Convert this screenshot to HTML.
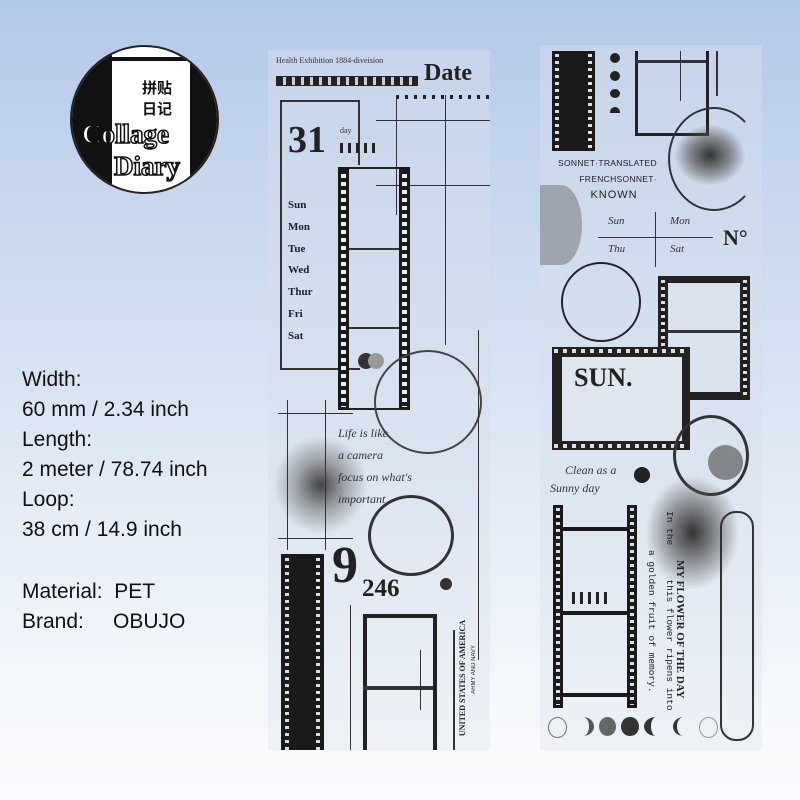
<!DOCTYPE html>
<html><head><meta charset="utf-8"><style>
body{margin:0;width:800px;height:800px;overflow:hidden;background:linear-gradient(#b3c9e8 0%,#d6e2f2 45%,#f4f7fb 85%,#fafbfd 100%);font-family:"Liberation Sans",sans-serif;position:relative}
.abs{position:absolute}
.info{left:22px;top:365px;font-size:21px;line-height:30px;color:#111}
.strip{background:linear-gradient(#c6d5ea,#dbe4f1 60%,#eef2f7)}
.sp{position:absolute;background:#1a1a1a}
.sp::after{content:"";position:absolute;left:30%;right:30%;top:3px;bottom:3px;background:repeating-linear-gradient(#1a1a1a 0 4px,#e8eef6 4px 8px)}
.serif{font-family:"Liberation Serif",serif}
.ln{position:absolute;background:#333}
.holes{position:absolute;background:repeating-linear-gradient(#ddd 0 3px,#1a1a1a 3px 7px)}
</style></head><body>
<!-- logo -->
<div class="abs" style="left:70px;top:45px;width:145px;height:145px;border-radius:50%;background:#fff;overflow:hidden;border:2px solid #222">
 <div class="abs" style="left:0;top:0;width:40px;height:145px;background:#111"></div>
 <div class="abs" style="left:118px;top:0;width:30px;height:145px;background:#111"></div>
 <div class="abs" style="left:40px;top:10px;width:80px;height:4px;background:#111"></div>
 <div class="abs" style="left:70px;top:30px;font:bold 15px 'Noto Sans CJK SC',sans-serif;color:#111">拼贴<br>日记</div>
 <div class="abs serif" style="left:10px;top:72px;font-size:27px;color:#fff;-webkit-text-stroke:1.5px #111;font-weight:bold">Collage</div>
 <div class="abs serif" style="left:42px;top:104px;font-size:27px;color:#fff;-webkit-text-stroke:1.5px #111;font-weight:bold">Diary</div>
</div>
<div class="abs info">Width:<br>60 mm / 2.34 inch<br>Length:<br>2 meter / 78.74 inch<br>Loop:<br>38 cm / 14.9 inch<br><div style="height:32px"></div>Material:&nbsp; PET<br>Brand:&nbsp;&nbsp;&nbsp;&nbsp; OBUJO</div>

<!-- left strip -->
<div class="abs strip" style="left:268px;top:50px;width:222px;height:700px;overflow:hidden">
 <div class="abs serif" style="left:8px;top:6px;font-size:8px;color:#333">Health Exhibition 1884-diveision</div>
 <div class="abs" style="left:8px;top:26px;width:140px;height:8px;background:repeating-linear-gradient(90deg,#222 0 6px,#ccd 6px 9px);border:1px solid #222"></div>
 <div class="abs serif" style="left:156px;top:10px;font-size:24px;font-weight:bold;color:#222">Date</div>
 <div class="abs" style="left:128px;top:45px;width:94px;height:4px;background:repeating-linear-gradient(90deg,#222 0 3px,transparent 3px 9px)"></div>
 <div class="ln" style="left:128px;top:45px;width:1px;height:120px"></div>
 <div class="ln" style="left:108px;top:70px;width:114px;height:1px"></div>
 <div class="ln" style="left:108px;top:135px;width:114px;height:1px"></div>
 <div class="ln" style="left:177px;top:45px;width:1px;height:250px"></div>
 <div class="abs" style="left:12px;top:50px;width:78px;height:266px;border:2px solid #333;border-right:none"></div>
 <div class="ln" style="left:90px;top:50px;width:2px;height:65px"></div>
 <div class="abs serif" style="left:20px;top:68px;font-size:38px;font-weight:bold;color:#222">31</div>
 <div class="abs serif" style="left:72px;top:76px;font-size:8px;color:#333">day</div>
 <div class="abs" style="left:72px;top:93px;width:40px;height:10px;background:repeating-linear-gradient(90deg,#222 0 3px,transparent 3px 8px)"></div>
 <div class="abs serif" style="left:20px;top:145px;font-size:11px;line-height:21.8px;font-weight:bold;color:#222">Sun<br>Mon<br>Tue<br>Wed<br>Thur<br>Fri<br>Sat</div>
 <div class="sp" style="left:70px;top:117px;width:11px;height:243px"></div>
 <div class="sp" style="left:131px;top:117px;width:11px;height:243px"></div>
 <div class="abs" style="left:81px;top:117px;width:50px;height:239px;border-top:2px solid #222;border-bottom:2px solid #222"></div>
 <div class="ln" style="left:81px;top:198px;width:50px;height:2px"></div>
 <div class="ln" style="left:81px;top:277px;width:50px;height:2px"></div>
 <div class="abs" style="left:90px;top:303px;width:16px;height:16px;border-radius:50%;background:#333"></div>
 <div class="abs" style="left:100px;top:303px;width:16px;height:16px;border-radius:50%;background:#999"></div>
 <div class="abs" style="left:106px;top:300px;width:104px;height:100px;border:2px solid #444;border-radius:50%"></div>
 <div class="abs" style="left:100px;top:445px;width:80px;height:75px;border:3px solid #333;border-radius:50%"></div>
 <div class="abs" style="left:5px;top:385px;width:95px;height:100px;background:radial-gradient(#444 0,#6668 35%,transparent 70%)"></div>
 <div class="ln" style="left:10px;top:363px;width:75px;height:1px"></div>
 <div class="ln" style="left:10px;top:488px;width:75px;height:1px"></div>
 <div class="ln" style="left:19px;top:350px;width:1px;height:150px"></div>
 <div class="ln" style="left:57px;top:350px;width:1px;height:150px"></div>
 <div class="ln" style="left:210px;top:280px;width:1px;height:330px"></div>
 <div class="abs serif" style="left:70px;top:372px;font-size:12px;font-style:italic;color:#333;line-height:22px">Life is like<br>a camera<br>focus on what's<br>important</div>
 <div class="abs" style="left:172px;top:528px;width:12px;height:12px;border-radius:50%;background:#333"></div>
 <div class="abs serif" style="left:64px;top:488px;font-size:52px;font-weight:bold;color:#222;line-height:56px">9</div>
 <div class="abs serif" style="left:94px;top:525px;font-size:25px;font-weight:bold;color:#222">246</div>
 <div class="abs" style="left:13px;top:504px;width:43px;height:196px;background:#1a1a1a"></div>
 <div class="holes" style="left:17px;top:508px;width:4px;height:192px"></div>
 <div class="holes" style="left:48px;top:508px;width:4px;height:192px"></div>
 <div class="abs" style="left:95px;top:564px;width:66px;height:140px;border:4px solid #222;border-bottom:none"></div>
 <div class="ln" style="left:95px;top:636px;width:70px;height:4px"></div>
 <div class="ln" style="left:82px;top:555px;width:1px;height:145px"></div>
 <div class="ln" style="left:152px;top:600px;width:1px;height:60px"></div>
 <div class="ln" style="left:185px;top:580px;width:2px;height:120px"></div>
 <div class="abs serif" style="left:190px;top:570px;font-size:8px;font-weight:bold;color:#222;writing-mode:vertical-rl;transform:rotate(180deg);white-space:nowrap">UNITED STATES OF AMERICA</div>
 <div class="abs" style="left:203px;top:595px;font-size:6px;color:#222;writing-mode:vertical-rl;transform:rotate(180deg);white-space:nowrap">ARMY AND NAVY</div>
</div>

<!-- right strip -->
<div class="abs strip" style="left:540px;top:45px;width:222px;height:705px;overflow:hidden">
 <div class="abs" style="left:12px;top:6px;width:43px;height:100px;background:#1a1a1a"></div>
 <div class="holes" style="left:15px;top:9px;width:4px;height:94px"></div>
 <div class="holes" style="left:48px;top:9px;width:4px;height:94px"></div>
 <div class="abs" style="left:70px;top:8px;width:10px;height:10px;border-radius:50%;background:#222"></div>
 <div class="abs" style="left:70px;top:26px;width:10px;height:10px;border-radius:50%;background:#222"></div>
 <div class="abs" style="left:70px;top:44px;width:10px;height:9px;border-radius:50%;background:#222"></div>
 <div class="abs" style="left:70px;top:62px;width:10px;height:6px;border-radius:6px 6px 0 0;background:#222"></div>
 <div class="abs" style="left:95px;top:6px;width:68px;height:82px;border:3px solid #222;border-top:none"></div>
 <div class="ln" style="left:95px;top:15px;width:71px;height:3px"></div>
 <div class="ln" style="left:140px;top:6px;width:1px;height:50px"></div>
 <div class="ln" style="left:176px;top:6px;width:2px;height:45px"></div>
 <div class="abs" style="left:128px;top:62px;width:88px;height:100px;border:2px solid #333;border-radius:50%;border-right-color:transparent"></div>
 <div class="abs" style="left:135px;top:80px;width:70px;height:60px;border-radius:50%;background:radial-gradient(#333 0,#5558 45%,transparent 72%)"></div>
 <div class="abs" style="left:18px;top:110px;font-size:8.5px;color:#222;letter-spacing:.3px;line-height:16px;white-space:nowrap">SONNET·TRANSLATED<br>&nbsp;&nbsp;&nbsp;&nbsp;&nbsp;&nbsp;&nbsp;&nbsp;FRENCHSONNET·<br><span style="font-size:11px;letter-spacing:1px">&nbsp;&nbsp;&nbsp;&nbsp;&nbsp;&nbsp;&nbsp;&nbsp;KNOWN</span></div>
 <div class="abs" style="left:0;top:140px;width:42px;height:80px;border-radius:0 50% 50% 0;background:#8a8d93;opacity:.7"></div>
 <div class="ln" style="left:58px;top:192px;width:115px;height:1px"></div>
 <div class="ln" style="left:115px;top:167px;width:1px;height:55px"></div>
 <div class="abs serif" style="left:68px;top:170px;font-size:11px;font-style:italic;color:#333">Sun</div>
 <div class="abs serif" style="left:130px;top:170px;font-size:11px;font-style:italic;color:#333">Mon</div>
 <div class="abs serif" style="left:68px;top:198px;font-size:11px;font-style:italic;color:#333">Thu</div>
 <div class="abs serif" style="left:130px;top:198px;font-size:11px;font-style:italic;color:#333">Sat</div>
 <div class="abs serif" style="left:183px;top:180px;font-size:22px;font-weight:bold;color:#222">N°</div>
 <div class="abs" style="left:21px;top:217px;width:76px;height:76px;border:2px solid #222;border-radius:50%"></div>
 <div class="abs" style="left:118px;top:231px;width:92px;height:124px;background:#222"></div>
 <div class="holes" style="left:121px;top:235px;width:4px;height:116px"></div>
 <div class="holes" style="left:203px;top:235px;width:4px;height:116px"></div>
 <div class="abs" style="left:128px;top:238px;width:72px;height:109px;background:#d9e2ee"></div>
 <div class="ln" style="left:128px;top:285px;width:72px;height:3px"></div>
 <div class="abs" style="left:12px;top:302px;width:138px;height:103px;background:#222"></div>
 <div class="abs" style="left:14px;top:304px;width:134px;height:4px;background:repeating-linear-gradient(90deg,#ddd 0 4px,#222 4px 9px)"></div>
 <div class="abs" style="left:14px;top:399px;width:134px;height:4px;background:repeating-linear-gradient(90deg,#ddd 0 4px,#222 4px 9px)"></div>
 <div class="abs" style="left:22px;top:312px;width:120px;height:84px;background:#dfe6f0"></div>
 <div class="abs serif" style="left:34px;top:318px;font-size:26px;font-weight:bold;color:#222">SUN.</div>
 <div class="abs" style="left:133px;top:370px;width:70px;height:75px;border:3px solid #333;border-radius:50%"></div>
 <div class="abs" style="left:168px;top:400px;width:35px;height:35px;border-radius:50%;background:#555a"></div>
 <div class="abs serif" style="left:10px;top:416px;font-size:12px;font-style:italic;color:#333;line-height:18px">&nbsp;&nbsp;&nbsp;&nbsp;&nbsp;Clean as a<br>Sunny day</div>
 <div class="abs" style="left:94px;top:422px;width:16px;height:16px;border-radius:50%;background:#222"></div>
 <div class="abs" style="left:105px;top:430px;width:95px;height:115px;background:radial-gradient(#333 0,#5558 40%,transparent 70%)"></div>
 <div class="abs" style="left:13px;top:460px;width:10px;height:203px;background:#1a1a1a"></div>
 <div class="abs" style="left:87px;top:460px;width:10px;height:203px;background:#1a1a1a"></div>
 <div class="holes" style="left:16px;top:463px;width:4px;height:197px"></div>
 <div class="holes" style="left:90px;top:463px;width:4px;height:197px"></div>
 <div class="ln" style="left:23px;top:482px;width:64px;height:4px;background:#1a1a1a"></div>
 <div class="ln" style="left:23px;top:566px;width:64px;height:4px;background:#1a1a1a"></div>
 <div class="ln" style="left:23px;top:648px;width:64px;height:4px;background:#1a1a1a"></div>
 <div class="abs" style="left:32px;top:547px;width:36px;height:12px;background:repeating-linear-gradient(90deg,#222 0 3px,transparent 3px 8px)"></div>
 <div class="abs" style="left:124px;top:466px;font-size:9.5px;font-family:'Liberation Mono',monospace;color:#222;writing-mode:vertical-rl;white-space:nowrap">In the&nbsp;&nbsp;&nbsp;&nbsp;&nbsp;&nbsp;this flower ripens into</div>
 <div class="abs" style="left:106px;top:505px;font-size:9.5px;font-family:'Liberation Mono',monospace;color:#222;writing-mode:vertical-rl;white-space:nowrap">a golden fruit of memory.</div>
 <div class="abs serif" style="left:134px;top:515px;font-size:11px;font-weight:bold;color:#222;writing-mode:vertical-rl;white-space:nowrap">MY FLOWER OF THE DAY</div>
 <div class="abs" style="left:180px;top:466px;width:30px;height:226px;border:2px solid #333;border-radius:16px"></div>
 <div class="abs" style="left:8px;top:672px;width:170px;height:22px;display:flex;gap:5px">
  <div style="width:19px;height:19px;border-radius:50%;border:1px solid #777"></div>
  <div style="width:19px;height:19px;border-radius:50%;border-right:5px solid #555"></div>
  <div style="width:19px;height:19px;border-radius:50%;background:#666"></div>
  <div style="width:19px;height:19px;border-radius:50%;background:#333"></div>
  <div style="width:19px;height:19px;border-radius:50%;border-left:7px solid #333"></div>
  <div style="width:19px;height:19px;border-radius:50%;border-left:4px solid #333"></div>
  <div style="width:19px;height:19px;border-radius:50%;border:1px solid #999"></div>
 </div>
</div>
</body></html>
